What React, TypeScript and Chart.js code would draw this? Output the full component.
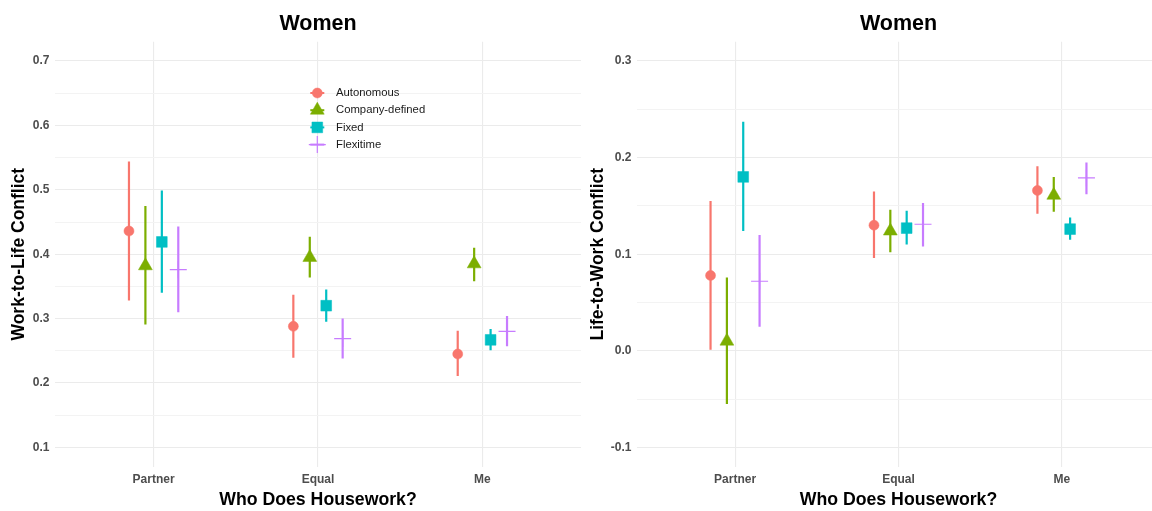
import React, { useEffect, useRef } from 'react';
import { Chart, registerables } from 'chart.js';
import { drawPoint } from 'chart.js/helpers';

Chart.register(...registerables);

// ---------- data ----------
const categories = ['Partner', 'Equal', 'Me'];
const seriesNames = ['Autonomous', 'Company-defined', 'Fixed', 'Flexitime'];

// Left panel: Work-to-Life Conflict
const wlAutonomousEst = [0.436, 0.288, 0.245];
const wlAutonomousLo = [0.328, 0.239, 0.211];
const wlAutonomousHi = [0.544, 0.337, 0.281];
const wlCompanyEst = [0.382, 0.395, 0.385];
const wlCompanyLo = [0.291, 0.364, 0.358];
const wlCompanyHi = [0.475, 0.427, 0.410];
const wlFixedEst = [0.419, 0.320, 0.267];
const wlFixedLo = [0.340, 0.295, 0.251];
const wlFixedHi = [0.499, 0.345, 0.284];
const wlFlexEst = [0.376, 0.269, 0.280];
const wlFlexLo = [0.310, 0.238, 0.257];
const wlFlexHi = [0.443, 0.300, 0.304];

// Right panel: Life-to-Work Conflict
const lwAutonomousEst = [0.078, 0.130, 0.166];
const lwAutonomousLo = [0.001, 0.096, 0.142];
const lwAutonomousHi = [0.155, 0.165, 0.191];
const lwCompanyEst = [0.010, 0.124, 0.161];
const lwCompanyLo = [-0.055, 0.102, 0.144];
const lwCompanyHi = [0.076, 0.146, 0.180];
const lwFixedEst = [0.180, 0.127, 0.126];
const lwFixedLo = [0.124, 0.110, 0.115];
const lwFixedHi = [0.237, 0.145, 0.138];
const lwFlexEst = [0.072, 0.131, 0.179];
const lwFlexLo = [0.025, 0.108, 0.162];
const lwFlexHi = [0.120, 0.153, 0.195];

const leftYTicks = [0.1, 0.2, 0.3, 0.4, 0.5, 0.6, 0.7];
const rightYTicks = [-0.1, 0.0, 0.1, 0.2, 0.3];

// ---------- styles ----------
const FONT = '"Liberation Sans", Arial, Helvetica, sans-serif';
const seriesColors = ['#F8766D', '#7CAE00', '#00BFC4', '#C77CFF'];
const pointStyles = ['circle', 'triangle', 'rect', 'cross'];
const pointRadii = [5, 8, 7.6, 8.5];
const pointBorders = [0.5, 0.5, 0.5, 1.2];
const dodge = [-0.15, -0.05, 0.05, 0.15];

const withMinor = (ticks: number[]) => {
  const out: number[] = [];
  ticks.forEach((t, i) => {
    out.push(t);
    if (i < ticks.length - 1) out.push((t + ticks[i + 1]) / 2);
  });
  return out;
};
const isMajor = (v: number) => Math.abs(v * 10 - Math.round(v * 10)) < 1e-6;

const insideLegend = {
  id: 'insideLegend',
  afterDraw(chart: any, _args: any, opts: any) {
    if (!opts || !opts.show) return;
    const ctx = chart.ctx;
    ctx.save();
    seriesNames.forEach((name, i) => {
      const cy = opts.y + i * opts.rowHeight;
      ctx.strokeStyle = seriesColors[i];
      ctx.fillStyle = seriesColors[i];
      ctx.lineWidth = 2;
      ctx.beginPath();
      ctx.moveTo(opts.x - 7, cy);
      ctx.lineTo(opts.x + 7, cy);
      ctx.stroke();
      ctx.lineWidth = pointBorders[i];
      drawPoint(ctx, { pointStyle: pointStyles[i], rotation: 0, radius: pointRadii[i], borderWidth: pointBorders[i] } as any, opts.x, cy);
      ctx.fillStyle = '#1A1A1A';
      ctx.font = `11.3px ${FONT}`;
      ctx.textAlign = 'left';
      ctx.textBaseline = 'middle';
      ctx.fillText(name, opts.textX, cy);
    });
    ctx.restore();
  },
};

function buildDatasets(est: number[][], lo: number[][], hi: number[][]) {
  const points = est.map((vals, s) => ({
    type: 'line',
    label: seriesNames[s],
    data: vals.map((v, i) => ({ x: i + 1 + dodge[s], y: v })),
    showLine: false,
    pointStyle: pointStyles[s],
    pointRadius: pointRadii[s],
    pointHoverRadius: pointRadii[s],
    pointBackgroundColor: seriesColors[s],
    pointBorderColor: seriesColors[s],
    pointBorderWidth: pointBorders[s],
    order: 0,
  }));
  const bars = est.map((vals, s) => ({
    type: 'line',
    label: seriesNames[s] + ' CI',
    data: vals.flatMap((_v, i) => [
      { x: i + 1 + dodge[s], y: lo[s][i] },
      { x: i + 1 + dodge[s], y: hi[s][i] },
      { x: i + 1 + dodge[s], y: null },
    ]),
    borderColor: seriesColors[s],
    borderWidth: 2.2,
    pointRadius: 0,
    pointHoverRadius: 0,
    spanGaps: false,
    borderCapStyle: 'butt',
    order: 1,
  }));
  return [...points, ...bars];
}

function makeConfig(p: any) {
  const yAll = withMinor(p.yTicks);
  return {
    type: 'line',
    data: { datasets: buildDatasets(p.est, p.lo, p.hi) },
    plugins: [insideLegend],
    options: {
      animation: false,
      responsive: false,
      devicePixelRatio: 1,
      layout: { autoPadding: false, padding: { left: 0, right: p.padRight, top: 0, bottom: 0 } },
      plugins: {
        legend: { display: false },
        tooltip: { enabled: false },
        title: {
          display: true,
          text: 'Women',
          color: '#000000',
          fullSize: false,
          font: { family: FONT, size: 21.5, weight: 'bold' },
          padding: { top: 11.6, bottom: 4.3 },
        },
        insideLegend: p.legend,
      },
      scales: {
        x: {
          type: 'linear',
          min: 0.4,
          max: 3.6,
          afterBuildTicks: (s: any) => {
            s.ticks = categories.map((_c, i) => ({ value: i + 1 }));
          },
          afterFit: (s: any) => {
            s.height = 44.3;
          },
          grid: { color: '#EBEBEB', lineWidth: 1.1, drawTicks: false },
          border: { display: false },
          ticks: {
            autoSkip: false,
            maxRotation: 0,
            padding: 6,
            color: '#4D4D4D',
            font: { family: FONT, size: 12, weight: 'bold' },
            callback: (v: any) => categories[Math.round(v) - 1] ?? '',
          },
          title: {
            display: true,
            text: 'Who Does Housework?',
            color: '#000000',
            font: { family: FONT, size: 17.7, weight: 'bold' },
            padding: { top: 0, bottom: 0.5 },
          },
        },
        y: {
          type: 'linear',
          min: p.yMin,
          max: p.yMax,
          afterBuildTicks: (s: any) => {
            s.ticks = yAll.map((v) => ({ value: v }));
          },
          afterFit: (s: any) => {
            s.width = 55;
          },
          grid: {
            drawTicks: false,
            color: (c: any) => (c.tick && isMajor(c.tick.value) ? '#EBEBEB' : '#F3F3F3'),
            lineWidth: (c: any) => (c.tick && isMajor(c.tick.value) ? 1.1 : 1),
          },
          border: { display: false },
          ticks: {
            autoSkip: false,
            padding: 5.5,
            color: '#4D4D4D',
            font: { family: FONT, size: 12, weight: 'bold' },
            callback: (v: any) => (isMajor(v) ? (Math.abs(v) < 1e-9 ? '0.0' : Number(v).toFixed(1)) : ''),
          },
          title: {
            display: true,
            text: p.yTitle,
            color: '#000000',
            font: { family: FONT, size: 17.5, weight: 'bold' },
            padding: { top: p.yTitlePad, bottom: 0 },
          },
        },
      },
    },
  };
}

function ChartCanvas({ width, height, params }: { width: number; height: number; params: any }) {
  const ref = useRef<HTMLCanvasElement | null>(null);
  useEffect(() => {
    if (!ref.current) return;
    const chart = new Chart(ref.current, makeConfig(params) as any);
    return () => chart.destroy();
  }, []);
  return <canvas ref={ref} width={width} height={height} style={{ display: 'block', width, height }} />;
}

const leftParams = {
  est: [wlAutonomousEst, wlCompanyEst, wlFixedEst, wlFlexEst],
  lo: [wlAutonomousLo, wlCompanyLo, wlFixedLo, wlFlexLo],
  hi: [wlAutonomousHi, wlCompanyHi, wlFixedHi, wlFlexHi],
  yTicks: leftYTicks,
  yMin: 0.07,
  yMax: 0.73,
  yTitle: 'Work-to-Life Conflict',
  yTitlePad: 9,
  padRight: 1,
  legend: { show: true, x: 317.3, y: 93, rowHeight: 17.2, textX: 336 },
};

const rightParams = {
  est: [lwAutonomousEst, lwCompanyEst, lwFixedEst, lwFlexEst],
  lo: [lwAutonomousLo, lwCompanyLo, lwFixedLo, lwFlexLo],
  hi: [lwAutonomousHi, lwCompanyHi, lwFixedHi, lwFlexHi],
  yTicks: rightYTicks,
  yMin: -0.12,
  yMax: 0.32,
  yTitle: 'Life-to-Work Conflict',
  yTitlePad: 5.5,
  padRight: 2,
  legend: { show: false },
};

export default function App() {
  return (
    <div style={{ position: 'fixed', left: 0, top: 0, width: 1152, height: 511, background: '#ffffff', overflow: 'hidden' }}>
      <div style={{ position: 'absolute', left: 0, top: 0, width: 582, height: 511 }}>
        <ChartCanvas width={582} height={511} params={leftParams} />
      </div>
      <div style={{ position: 'absolute', left: 582, top: 0, width: 570, height: 511, overflow: 'hidden' }}>
        <ChartCanvas width={580} height={511} params={rightParams} />
      </div>
    </div>
  );
}
